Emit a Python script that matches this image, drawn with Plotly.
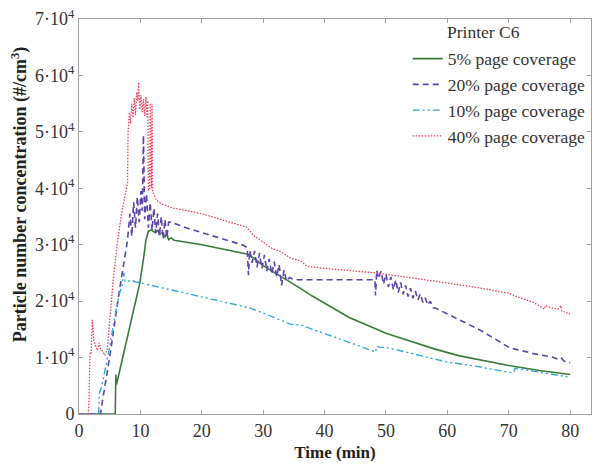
import plotly.graph_objects as go

# ---- data ----
t_5 = [0, 5.9, 6.0, 6.1, 6.4, 7.0, 7.7, 8.8, 9.9, 10.5, 10.9, 11.3, 11.8, 12.3, 12.8, 13.2, 13.6, 14.0, 14.3, 14.6, 15.0, 15.5, 20, 27.5, 28.5, 30, 32, 34, 35, 36, 38, 40, 44, 48.5, 50, 52, 55, 58, 62, 66, 70, 75, 80]
c_5 = [0, 0, 7000, 5200, 6600, 9500, 12600, 17900, 23200, 27500, 30800, 32400, 32600, 32200, 32500, 31900, 32100, 31400, 31900, 30900, 31200, 30800, 30000, 28300, 27600, 26300, 25000, 23600, 23000, 22300, 20900, 19600, 17100, 15000, 14300, 13600, 12500, 11500, 10300, 9400, 8600, 7700, 7000]

t_20 = [0, 3.5, 3.7, 5.0, 6.6, 7.9, 8.3, 8.6, 8.9, 9.2, 9.5, 9.8, 10.1, 10.3, 10.5, 10.7, 11.0, 11.3, 11.6, 11.9, 12.2, 12.5, 12.8, 13.1, 13.4, 13.7, 14.0, 14.3, 14.6, 15.0, 18, 26.7, 27.4, 27.6, 27.8, 28.2, 28.6, 29.0, 29.4, 29.8, 30.2, 30.6, 31.0, 31.4, 31.8, 32.2, 32.6, 33.0, 33.4, 33.8, 34.3, 35, 40, 48.2, 48.3, 48.5, 48.8, 49.2, 49.6, 50.0, 50.4, 50.8, 51.2, 51.6, 52.0, 52.4, 52.8, 53.2, 53.6, 54.0, 54.4, 54.8, 55.2, 55.6, 56.0, 56.4, 56.8, 57.2, 57.7, 58.2, 65.3, 70.2, 71, 72, 73, 74, 75, 76, 77, 78, 78.5, 79, 80]
c_20 = [0, 0, 1500, 10100, 22000, 30800, 35500, 31500, 37500, 33000, 38500, 34000, 39500, 36000, 49400, 34500, 39000, 33000, 37500, 32500, 36500, 32000, 35500, 31500, 35000, 31000, 34500, 31200, 34000, 34000, 32800, 29950, 29500, 24600, 29000, 26800, 28900, 26000, 28500, 25800, 28200, 25300, 27500, 24800, 27000, 24300, 26500, 22800, 25500, 23500, 24200, 23800, 23800, 23800, 21000, 25500, 24000, 25300, 23000, 24800, 22500, 24300, 22000, 23800, 21500, 23300, 21200, 22800, 20800, 22300, 20500, 21800, 20200, 21300, 19800, 20600, 19300, 20000, 18800, 18700, 14900, 11700, 11500, 11300, 11000, 10700, 10500, 10300, 10100, 9700, 10000, 9400, 9100]

t_10 = [0, 3.2, 3.3, 3.6, 4.2, 5.0, 5.8, 6.6, 7.0, 7.3, 7.5, 7.7, 8.5, 9.3, 15, 20, 27.8, 30, 32, 33.8, 34.5, 36, 40, 44, 48.3, 48.5, 49, 50, 52, 55, 58, 60, 65, 70.5, 70.8, 71, 74, 77, 80]
c_10 = [0, 0, 3700, 4500, 7500, 11900, 17000, 21400, 22800, 25000, 23500, 23400, 23700, 23400, 22000, 20800, 18800, 17900, 17000, 16300, 15900, 15800, 14300, 12700, 11000, 12000, 11800, 11800, 11300, 10500, 9800, 9200, 8400, 7300, 7400, 8100, 7600, 7100, 6500]

t_40 = [0, 1.5, 1.6, 1.8, 2.0, 2.15, 2.4, 2.7, 3.0, 3.3, 3.5, 3.8, 4.2, 4.6, 5.0, 5.6, 6.3, 7.0, 7.9, 8.0, 8.2, 8.4, 8.6, 8.8, 9.0, 9.2, 9.4, 9.6, 9.7, 9.9, 10.1, 10.3, 10.5, 10.7, 10.9, 11.1, 11.2, 11.3, 11.5, 11.6, 11.8, 11.9, 12.0, 12.6, 13.5, 15.3, 20, 27.3, 28.5, 30, 31.5, 33, 34.5, 36, 37.1, 40, 45, 48.5, 55, 60, 65, 70, 72, 74, 75.8, 76.0, 77, 78, 78.5, 78.6, 80]
c_40 = [0, 0, 1500, 11000, 10800, 16700, 13000, 12000, 11300, 12600, 11500, 11200, 10400, 11500, 16700, 24000, 30800, 36000, 40900, 50000, 53500, 51500, 55000, 52500, 56000, 53000, 57000, 55500, 58800, 54000, 56500, 53500, 55800, 52800, 56200, 52600, 55500, 39700, 39800, 55100, 40000, 55000, 39500, 37900, 37200, 36500, 35500, 33100, 31600, 30500, 29300, 28700, 27600, 27200, 26200, 25800, 25300, 25000, 24000, 23200, 22400, 21400, 20500, 19800, 18600, 19200, 18800, 18600, 19200, 18300, 17700]

y_ticks = [0, 10000, 20000, 30000, 40000, 50000, 60000, 70000]
y_labels = ["0", "1·10<sup>4</sup>", "2·10<sup>4</sup>", "3·10<sup>4</sup>",
            "4·10<sup>4</sup>", "5·10<sup>4</sup>", "6·10<sup>4</sup>", "7·10<sup>4</sup>"]
x_ticks = [0, 10, 20, 30, 40, 50, 60, 70, 80]

serif = "Liberation Serif, Times New Roman, serif"

fig = go.Figure()
fig.add_trace(go.Scatter(x=t_5, y=c_5, mode="lines", name="5% page coverage",
                         line=dict(color="#3b7a3b", width=1.6)))
fig.add_trace(go.Scatter(x=t_20, y=c_20, mode="lines", name="20% page coverage",
                         line=dict(color="#5e44aa", width=1.6, dash="6px,4px")))
fig.add_trace(go.Scatter(x=t_10, y=c_10, mode="lines", name="10% page coverage",
                         line=dict(color="#35a6df", width=1.4, dash="7px,3px,2px,3px,2px,3px")))
fig.add_trace(go.Scatter(x=t_40, y=c_40, mode="lines", name="40% page coverage",
                         line=dict(color="#f0405c", width=1.3, dash="1.5px,1.5px")))

axis_common = dict(showgrid=False, zeroline=False, showline=True, linecolor="#a0a0a0",
                   linewidth=1, mirror="ticks", ticks="inside", ticklen=4, automargin=False,
                   ticklabeloverflow="allow",
                   tickcolor="#a0a0a0", tickfont=dict(family=serif, size=18, color="#333"))

fig.update_xaxes(range=[0, 83.4], tickvals=x_ticks,
                 title=dict(text="<b>Time (min)</b>", font=dict(family=serif, size=17, color="#222"),
                            standoff=6),
                 **axis_common)
fig.update_yaxes(range=[0, 70000], tickvals=y_ticks, ticktext=y_labels, **axis_common)

fig.add_annotation(text="<b>Particle number concentration (#/cm<sup>3</sup>)</b>",
                   xref="paper", yref="paper", x=0, xshift=-59, y=0.554,
                   xanchor="center", yanchor="middle", textangle=-90, showarrow=False,
                   font=dict(family=serif, size=18, color="#222"))

fig.add_annotation(text="Printer C6", xref="paper", yref="paper", x=0.714, y=0.967,
                   xanchor="left", yanchor="middle", showarrow=False,
                   font=dict(family=serif, size=17.5, color="#333"))

# the page body adds an 8px offset, so margins are compensated
fig.update_layout(
    width=602, height=469,
    margin=dict(l=71, r=19, t=11, b=63),
    plot_bgcolor="white", paper_bgcolor="white",
    legend=dict(x=0.642, y=0.945, xanchor="left", yanchor="top",
                bgcolor="rgba(0,0,0,0)", font=dict(family=serif, size=17.5, color="#333"),
                tracegroupgap=0),
)

fig.write_html("out.html")
